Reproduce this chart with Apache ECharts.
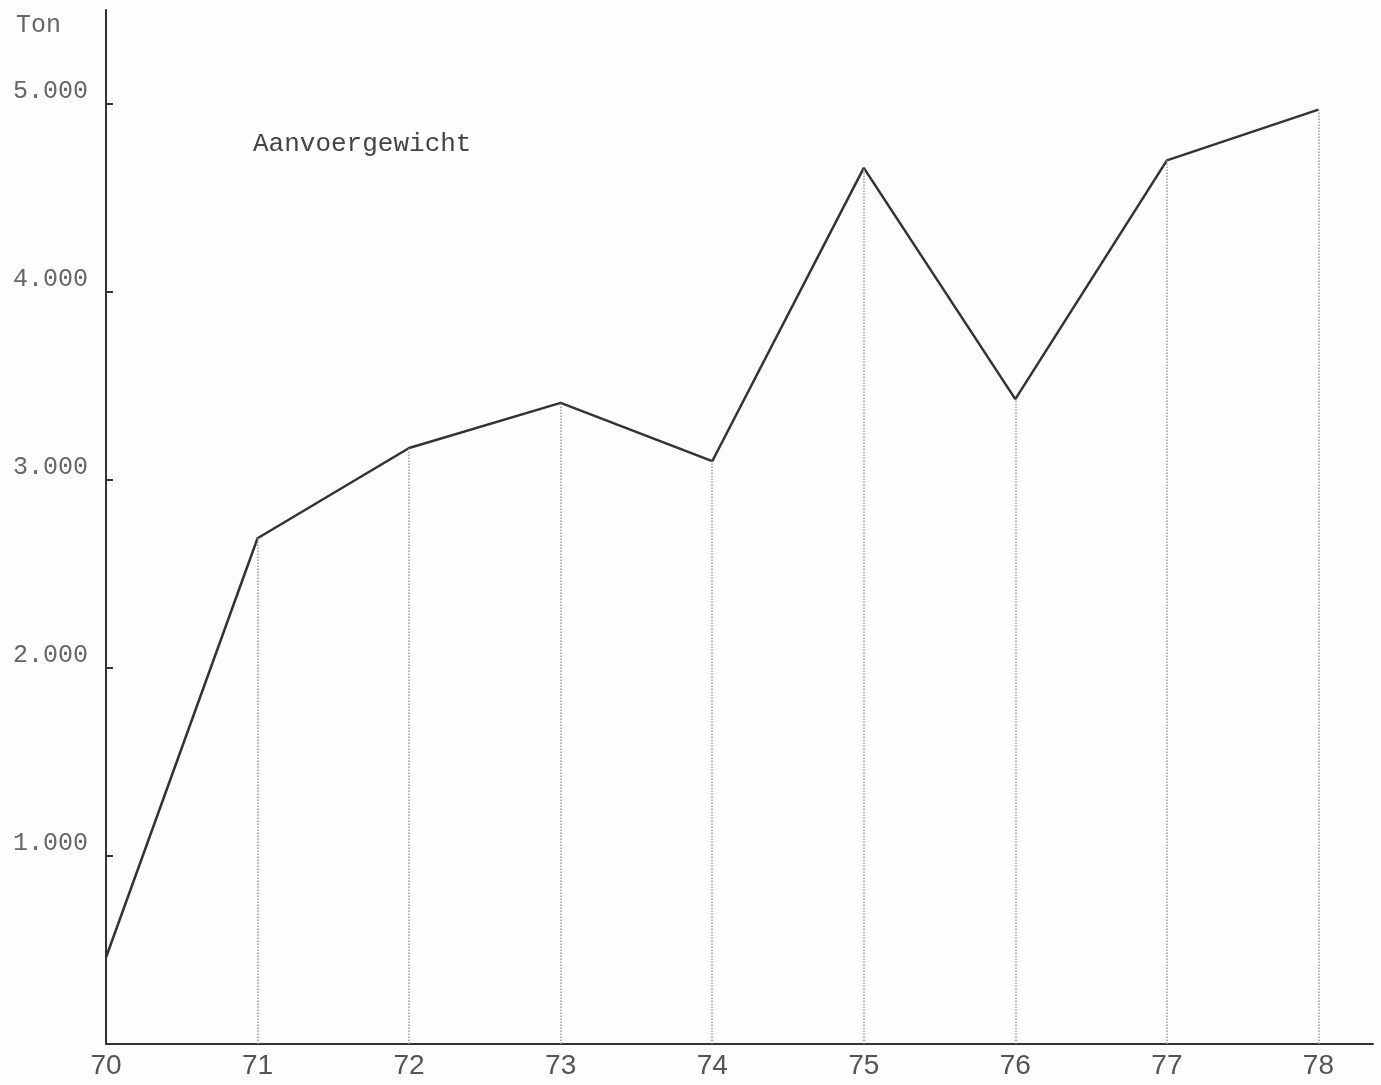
<!DOCTYPE html>
<html>
<head>
<meta charset="utf-8">
<script src="https://cdn.jsdelivr.net/npm/echarts@6/dist/echarts.min.js"></script>
<style>
html,body{margin:0;padding:0;background:#fdfdfb;}
#c{width:1381px;height:1085px;}
</style>
</head>
<body>
<div id="c"></div>
<script>
const years = [70, 71, 72, 73, 74, 75, 76, 77, 78];
const aanvoergewicht = [460, 2690, 3170, 3410, 3100, 4660, 3430, 4700, 4970];
const yTicks = [1000, 2000, 3000, 4000, 5000];
const seriesName = 'Aanvoergewicht';
const yUnit = 'Ton';

const chart = echarts.init(document.getElementById('c'));
const pts = years.map((y, i) => [y, aanvoergewicht[i]]);
const drops = years.slice(1).map((y, k) => [
  { coord: [y, 0] },
  { coord: [y, aanvoergewicht[k + 1]] }
]);

chart.setOption({
  backgroundColor: '#fdfdfb',
  animation: false,
  grid: { left: 106, right: 8, top: 10, bottom: 41 },
  title: [{
    text: yUnit, left: 11, top: 8,
    textStyle: { fontFamily: 'Liberation Mono', fontSize: 25, fontWeight: 'normal', color: '#666' }
  }, {
    text: seriesName, left: 248, top: 126,
    textStyle: { fontFamily: 'Liberation Mono', fontSize: 26, fontWeight: 'normal', color: '#444' }
  }],
  xAxis: {
    type: 'value', min: 70, max: 78.36, interval: 1,
    splitLine: { show: false },
    axisTick: { show: false },
    axisLine: { lineStyle: { color: '#333', width: 2 } },
    axisLabel: {
      customValues: years,
      fontFamily: 'Liberation Sans', fontSize: 28, color: '#555', margin: 8,
      formatter: v => String(v)
    }
  },
  yAxis: {
    type: 'value', min: 0, max: 5500, interval: 1000,
    splitLine: { show: false },
    axisLine: { show: true, lineStyle: { color: '#333', width: 2 } },
    axisTick: { show: true, inside: true, length: 7, customValues: yTicks, lineStyle: { color: '#333', width: 2 } },
    axisLabel: {
      customValues: yTicks,
      fontFamily: 'Liberation Mono', fontSize: 25, color: '#666', margin: 18,
      verticalAlign: 'bottom',
      formatter: v => (v / 1000) + '.000'
    }
  },
  series: [{
    name: seriesName,
    type: 'line',
    data: pts,
    symbol: 'none',
    lineStyle: { color: '#333', width: 2.5 },
    markLine: {
      silent: true,
      symbol: 'none',
      label: { show: false },
      lineStyle: { type: 'dotted', color: '#999', width: 1.5 },
      data: drops
    }
  }]
});
</script>
</body>
</html>
